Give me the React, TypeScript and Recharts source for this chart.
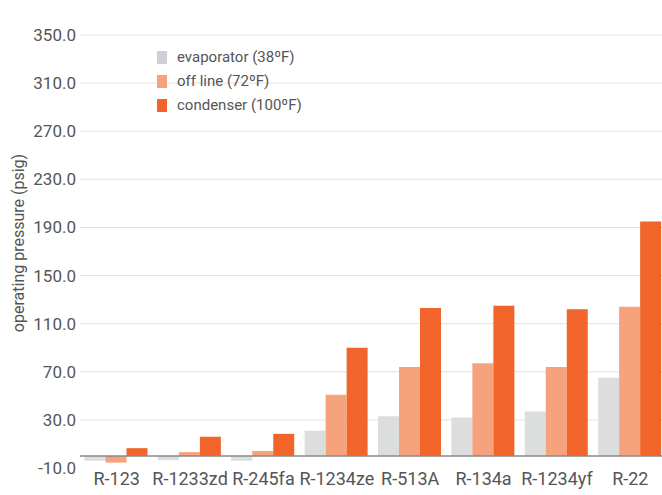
import React from 'react';
import { BarChart, Bar, XAxis, YAxis, CartesianGrid, ReferenceLine, Legend } from 'recharts';

const categories = ['R-123', 'R-1233zd', 'R-245fa', 'R-1234ze', 'R-513A', 'R-134a', 'R-1234yf', 'R-22'];
const evaporator = [-4, -3.5, -4, 21, 33, 32, 37, 65];
const offLine = [-5.5, 3.2, 4.2, 51, 74, 77, 74, 124];
const condenser = [6.5, 16, 18.4, 90, 123, 125, 122, 195];
const yTicks = [-10, 30, 70, 110, 150, 190, 230, 270, 310, 350];
const gridValues = [30, 70, 110, 150, 190, 230, 270, 310, 350];

const seriesNames = ['evaporator (38ºF)', 'off line (72ºF)', 'condenser (100ºF)'];
const seriesKeys = ['evaporator', 'offLine', 'condenser'];
const seriesColors = ['#dcdddd', '#f6a27c', '#f1652a'];
const legendColors = ['#cdd0d4', '#f6a27c', '#f1652a'];

const data = categories.map((name, i) => ({
  name,
  evaporator: evaporator[i],
  offLine: offLine[i],
  condenser: condenser[i],
}));

const FONT = 'Roboto, "Liberation Sans", Arial, sans-serif';

const LegendContent = () => (
  <div style={{ fontFamily: FONT, fontSize: 15, color: '#555', textAlign: 'left' }}>
    {seriesNames.map((n, i) => (
      <div key={n} style={{ display: 'flex', alignItems: 'center', height: 24 }}>
        <span style={{ display: 'inline-block', width: 10, height: 13, background: legendColors[i], marginRight: 10 }} />
        <span>{n}</span>
      </div>
    ))}
  </div>
);

export default function App() {
  return (
    <div style={{ position: 'absolute', left: 0, top: 0, width: 662, height: 495, overflow: 'hidden', background: '#fff' }}>
      <div
        style={{
          position: 'absolute',
          left: 18,
          top: 243,
          transform: 'translate(-50%, -50%) rotate(-90deg)',
          whiteSpace: 'nowrap',
          fontFamily: FONT,
          fontSize: 16,
          color: '#555',
        }}
      >
        operating pressure (psig)
      </div>
      <BarChart
        width={700}
        height={495}
        data={data}
        margin={{ top: 35, right: 33, left: 0, bottom: 0 }}
        barCategoryGap={4.5}
        barGap={0}
      >
        <CartesianGrid vertical={false} stroke="#e2e2e2" horizontalValues={gridValues} />
        <XAxis
          dataKey="name"
          axisLine={false}
          tickLine={false}
          tickSize={0}
          tickMargin={4}
          height={27}
          interval={0}
          tick={{ fontSize: 18, fill: '#555', fontFamily: FONT }}
        />
        <YAxis
          type="number"
          domain={[-10, 350]}
          ticks={yTicks}
          width={80}
          axisLine={false}
          tickLine={false}
          tickSize={0}
          tickMargin={4}
          tickFormatter={(v: number) => v.toFixed(1)}
          tick={{ fontSize: 17, fill: '#555', fontFamily: FONT }}
        />
        <Legend
          layout="vertical"
          verticalAlign="middle"
          align="center"
          content={<LegendContent />}
          wrapperStyle={{ position: 'absolute', left: 157, top: 45, width: 200, height: 72 }}
        />
        {seriesKeys.map((k, i) => (
          <Bar key={k} dataKey={k} name={seriesNames[i]} fill={seriesColors[i]} isAnimationActive={false} />
        ))}
        <ReferenceLine y={0} stroke="#8a8a8a" strokeWidth={1.5} />
      </BarChart>
    </div>
  );
}
